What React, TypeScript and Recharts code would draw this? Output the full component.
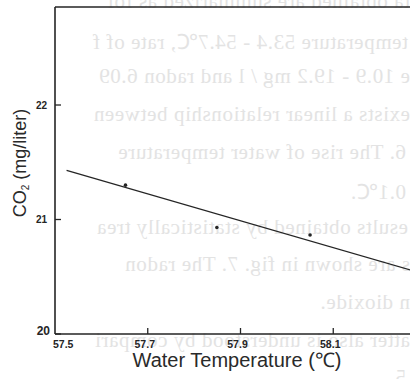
import React from "react";
import {
  ComposedChart,
  Line,
  Scatter,
  XAxis,
  YAxis,
  ReferenceLine,
} from "recharts";

// measured CO2 vs water temperature
const tempValues = [57.652, 57.849, 58.05];
const co2Values = [21.3, 20.93, 20.865];

// fitted regression line (end points as drawn)
const fitTemps = [57.525, 58.3];
const fitCo2 = [21.43, 20.52];

const xTicks = [57.5, 57.7, 57.9, 58.1];
const yTicks = [20, 21, 22];
const xDomain = [57.5, 58.3];
const yDomain = [20, 22.856];

// faint mirrored print showing through the scanned page
const ghostLines = [
  "ta obtained are summarized as fol",
  "temperature 53.4 - 54.7℃, rate of f",
  "e 10.9 - 19.2 mg / l and radon 6.09",
  "exists a linear relationship between",
  "6.  The rise of water temperature",
  "0.1℃.",
  "esults obtained by statistically trea",
  "s are shown in fig. 7.  The radon",
  "n dioxide.",
  "atter also is understood by compari",
  "5",
];
const ghostTop = [2, 40, 77, 115, 153, 190, 228, 265, 303, 341, 378];
const ghostLeft = [0, 2, 0, 0, 4, 4, 2, 0, 0, 0, 4];

const W = 440;
const H = 379;
const PLOT_LEFT = 55;
const PLOT_BOTTOM = 334;
const INK = "#252525";

const points = tempValues.map((t, i) => ({ t, c: co2Values[i] }));
const fit = fitTemps.map((t, i) => ({ t, c: fitCo2[i] }));

function XTick(props: any) {
  const { x, payload } = props;
  const first = payload.value === xTicks[0];
  return (
    <g>
      {!first && (
        <line x1={x} x2={x} y1={PLOT_BOTTOM} y2={PLOT_BOTTOM - 6} stroke={INK} strokeWidth={1.3} />
      )}
      <text
        x={first ? x - 2 : x - 3}
        y={PLOT_BOTTOM + 14}
        textAnchor={first ? "start" : "middle"}
        fontSize={10.5}
        fontWeight="bold"
        fontFamily="Liberation Sans, Arial, sans-serif"
        fill={INK}
      >
        {payload.value.toFixed(1)}
      </text>
    </g>
  );
}

function YTick(props: any) {
  const { y, payload } = props;
  const bottom = payload.value === yTicks[0];
  return (
    <g>
      <line x1={PLOT_LEFT} x2={PLOT_LEFT + 6} y1={y} y2={y} stroke={INK} strokeWidth={1.3} />
      <text
        x={bottom ? 50 : 47}
        y={bottom ? y - 3 : y}
        textAnchor="end"
        dominantBaseline="central"
        fontSize={bottom ? 12 : 10}
        fontWeight="bold"
        fontFamily="Liberation Sans, Arial, sans-serif"
        fill={INK}
      >
        {payload.value}
      </text>
    </g>
  );
}

const Dot = (props: any) => <circle cx={props.cx} cy={props.cy} r={1.8} fill={INK} />;

export default function App() {
  return (
    <div
      style={{
        position: "fixed",
        left: 0,
        top: 0,
        width: 410,
        height: 379,
        overflow: "hidden",
        background: "#fff",
      }}
    >
      <div
        style={{
          position: "absolute",
          left: 0,
          top: 0,
          width: 410,
          height: 379,
          transform: "scaleX(-1)",
          fontFamily: "Liberation Serif, serif",
          fontSize: 21,
          color: "#e3e3e3",
          whiteSpace: "nowrap",
        }}
      >
        {ghostLines.map((s, i) => (
          <div
            key={i}
            style={{ position: "absolute", left: ghostLeft[i], top: ghostTop[i] - 13, letterSpacing: 0.6 }}
          >
            {s}
          </div>
        ))}
      </div>
      <div style={{ position: "absolute", left: 0, top: 0 }}>
        <ComposedChart width={W} height={H} margin={{ top: 7, right: 14, bottom: 0, left: 0 }}>
          <XAxis
            dataKey="t"
            type="number"
            domain={xDomain}
            ticks={xTicks}
            allowDataOverflow
            height={45}
            tickLine={false}
            axisLine={{ stroke: INK, strokeWidth: 1.6 }}
            tick={<XTick />}
            label={{
              content: () => (
                <text
                  x={237}
                  y={367}
                  textAnchor="middle"
                  fontSize={20}
                  fontFamily="Liberation Sans, Arial, sans-serif"
                  fill="#2a2a2a"
                >
                  Water Temperature (℃)
                </text>
              ),
            }}
          />
          <YAxis
            dataKey="c"
            type="number"
            domain={yDomain}
            ticks={yTicks}
            allowDataOverflow
            width={55}
            tickLine={false}
            axisLine={{ stroke: INK, strokeWidth: 1.6 }}
            tick={<YTick />}
            label={{
              content: () => (
                <text
                  transform="translate(26,163) rotate(-90)"
                  textAnchor="middle"
                  fontSize={18}
                  fontFamily="Liberation Sans, Arial, sans-serif"
                  fill="#2a2a2a"
                >
                  CO
                  <tspan fontSize={10} dy={3}>2</tspan>
                  <tspan dy={-3}>{"  (mg/liter)"}</tspan>
                </text>
              ),
            }}
          />
          <ReferenceLine y={yDomain[1]} stroke={INK} strokeWidth={1.6} />
          <Line
            data={fit}
            dataKey="c"
            type="linear"
            stroke={INK}
            strokeWidth={1.3}
            dot={false}
            activeDot={false}
            isAnimationActive={false}
          />
          <Scatter data={points} dataKey="c" shape={<Dot />} isAnimationActive={false} />
        </ComposedChart>
      </div>
    </div>
  );
}
